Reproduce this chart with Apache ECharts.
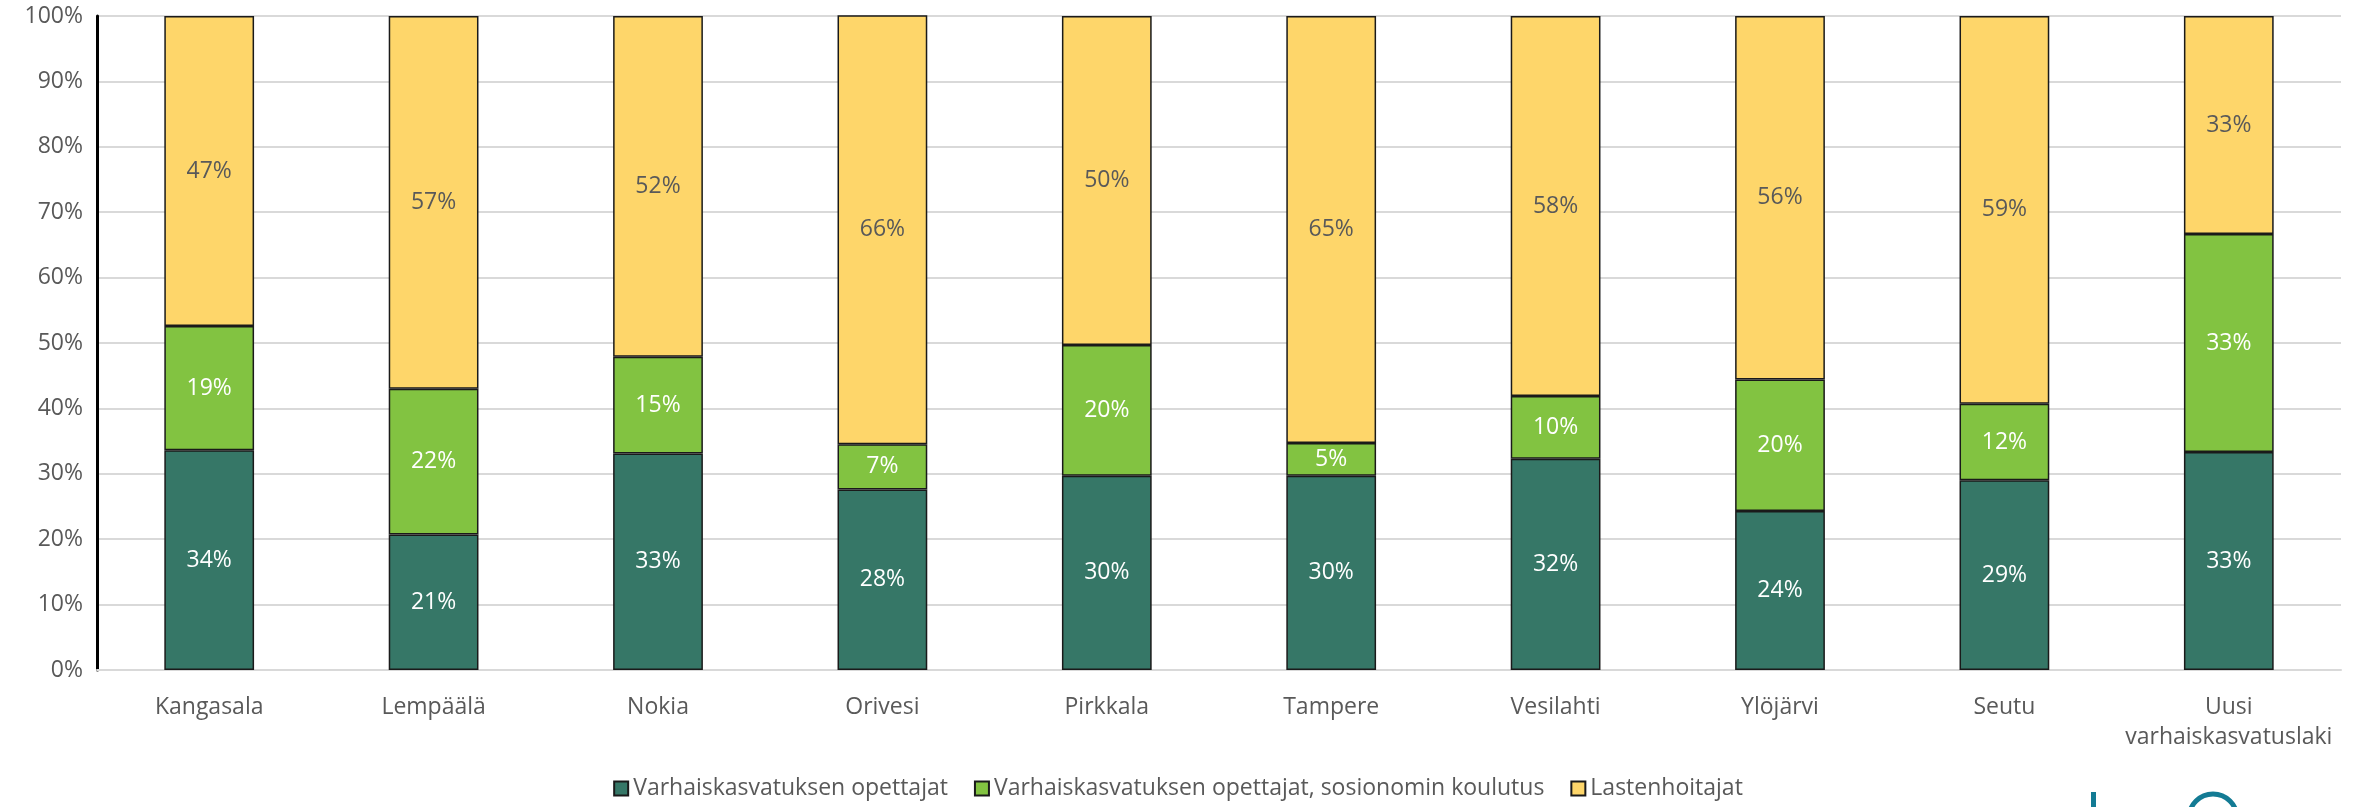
<!DOCTYPE html>
<html>
<head>
<meta charset="utf-8">
<script src="https://cdn.jsdelivr.net/npm/echarts@6/dist/echarts.min.js"></script>
<style>
  html, body { margin: 0; padding: 0; background: #fff; }
  #chart { width: 2356px; height: 807px; }
</style>
</head>
<body>
<div id="chart"></div>
<script>
// kategoriat (kunnat)
var categories = ["Kangasala", "Lempäälä", "Nokia", "Orivesi", "Pirkkala", "Tampere", "Vesilahti", "Ylöjärvi", "Seutu", "Uusi\nvarhaiskasvatuslaki"];
// osuudet prosentteina
var opettajat = [33.6, 20.7, 33.1, 27.6, 29.7, 29.7, 32.3, 24.3, 29.0, 33.33];
var sosionomit = [19.0, 22.3, 14.8, 6.9, 20.0, 5.0, 9.6, 20.1, 11.7, 33.33];
var hoitajat = [47.4, 57.0, 52.1, 65.6, 50.3, 65.3, 58.1, 55.6, 59.3, 33.34];
var yTicks = [0, 100, 10];

var font = "'Open Sans', 'Noto Sans', sans-serif";
var grey = "#595959";

function seg(name, data, color, labelColor) {
  return {
    name: name,
    type: "bar",
    stack: "total",
    barWidth: "40%",
    data: data,
    itemStyle: { color: color, borderColor: "#1a1a1a", borderWidth: 1.5 },
    label: {
      show: true,
      position: "inside",
      color: labelColor,
      fontFamily: font,
      fontSize: 23,
      formatter: function (p) { return Math.round(p.value) + "%"; }
    },
    emphasis: { disabled: true }
  };
}

var myChart = echarts.init(document.getElementById("chart"));
myChart.setOption({
  animation: false,
  textStyle: { fontFamily: font },
  grid: { left: 97, right: 15, top: 16, bottom: 137 },
  legend: {
    bottom: 2,
    left: "center",
    itemWidth: 14,
    itemHeight: 14,
    itemGap: 26,
    icon: "rect",
    textStyle: { color: grey, fontSize: 23, fontFamily: font },
    data: ["Varhaiskasvatuksen opettajat", "Varhaiskasvatuksen opettajat, sosionomin koulutus", "Lastenhoitajat"]
  },
  xAxis: {
    type: "category",
    data: categories,
    axisLine: { lineStyle: { color: "#d9d9d9", width: 2 } },
    axisTick: { show: false },
    axisLabel: { interval: 0, color: grey, fontSize: 23, margin: 22, lineHeight: 30, fontFamily: font }
  },
  yAxis: {
    type: "value",
    min: yTicks[0],
    max: yTicks[1],
    interval: yTicks[2],
    axisLine: { show: true, lineStyle: { color: "#000", width: 3 } },
    axisTick: { show: false },
    splitLine: { lineStyle: { color: "#d9d9d9", width: 2 } },
    axisLabel: { color: grey, fontSize: 23, margin: 14, formatter: "{value}%", fontFamily: font }
  },
  series: [
    seg("Varhaiskasvatuksen opettajat", opettajat, "#367767", "#ffffff"),
    seg("Varhaiskasvatuksen opettajat, sosionomin koulutus", sosionomit, "#82c341", "#ffffff"),
    seg("Lastenhoitajat", hoitajat, "#fed66a", grey)
  ],
  graphic: [
    { type: "rect", left: 2091, top: 792, shape: { width: 5, height: 20 }, style: { fill: "#137b94" } },
    { type: "circle", shape: { cx: 2213, cy: 818, r: 24 }, style: { fill: "none", stroke: "#137b94", lineWidth: 5 } }
  ]
});
</script>
</body>
</html>
